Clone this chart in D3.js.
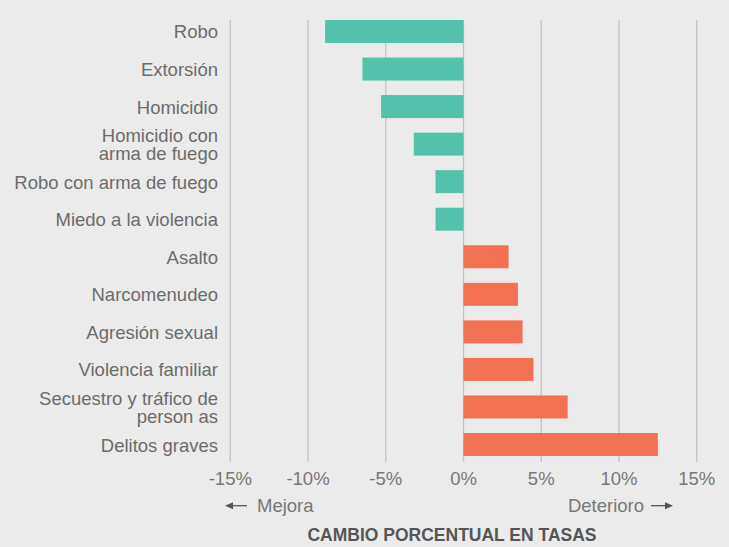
<!DOCTYPE html>
<html>
<head>
<meta charset="utf-8">
<script src="https://cdn.jsdelivr.net/npm/d3@7"></script>
<style>
  html, body { margin: 0; padding: 0; background: #ebebeb; }
  svg { display: block; font-family: "Liberation Sans", Arial, Helvetica, sans-serif; }
</style>
</head>
<body>
<svg width="729" height="547"></svg>
<script>
// categories (top to bottom), each may have two lines
let categories = [
  ["Robo"],
  ["Extorsión"],
  ["Homicidio"],
  ["Homicidio con", "arma de fuego"],
  ["Robo con arma de fuego"],
  ["Miedo a la violencia"],
  ["Asalto"],
  ["Narcomenudeo"],
  ["Agresión sexual"],
  ["Violencia familiar"],
  ["Secuestro y tráfico de", "person as"],
  ["Delitos graves"]
];
let changes = [-8.9, -6.5, -5.3, -3.2, -1.8, -1.8, 2.9, 3.5, 3.8, 4.5, 6.7, 12.5];
let ticks = [-15, -10, -5, 0, 5, 10, 15];
let axisTitle = "CAMBIO PORCENTUAL EN TASAS";
let leftNote = "Mejora";
let rightNote = "Deterioro";

var DrawChart = function(){
  let svg = d3.select("svg");
  let ids = categories.map((c, i) => i);
  let fs = "18.5px";

  let x = d3.scaleLinear().domain([-15, 15]).range([230.3, 696.7]);
  let y = d3.scaleBand()
    .domain(ids)
    .range([12.7, 463.3])
    .paddingInner(0.3875)
    .paddingOuter(0.19375);

  // gridlines
  svg.append("g").selectAll("line")
    .data(ticks)
    .enter()
    .append("line")
    .attr("x1", d => x(d))
    .attr("x2", d => x(d))
    .attr("y1", 20)
    .attr("y2", 462)
    .attr("stroke", "#c2c2c2")
    .attr("stroke-width", 1.3);

  // bars
  svg.append("g").selectAll("rect")
    .data(changes)
    .enter()
    .append("rect")
    .attr("x", d => x(Math.min(0, d)))
    .attr("y", (d, i) => y(i))
    .attr("width", d => Math.abs(x(d) - x(0)))
    .attr("height", y.bandwidth())
    .attr("fill", d => d < 0 ? "#53c2aa" : "#f27153");

  // category labels
  let lineH = 17.5;
  let labels = svg.append("g").selectAll("text")
    .data(categories)
    .enter()
    .append("text")
    .attr("text-anchor", "end")
    .style("font-size", fs)
    .style("fill", "#6b6b6b")
    .attr("y", (d, i) => y(i) + y.bandwidth() / 2 + 7 - (d.length - 1) * lineH / 2);
  labels.selectAll("tspan")
    .data(d => d)
    .enter()
    .append("tspan")
    .attr("x", 218)
    .attr("dy", (d, j) => j === 0 ? 0 : lineH)
    .text(d => d);

  // tick labels
  svg.append("g").selectAll("text")
    .data(ticks)
    .enter()
    .append("text")
    .attr("x", d => x(d))
    .attr("y", 485)
    .attr("text-anchor", "middle")
    .style("font-size", fs)
    .style("fill", "#777")
    .text(d => d + "%");

  // direction notes with arrows
  let arrowY = 505.7;
  svg.append("line")
    .attr("x1", 231).attr("x2", 247)
    .attr("y1", arrowY).attr("y2", arrowY)
    .attr("stroke", "#555").attr("stroke-width", 1.3);
  svg.append("path")
    .attr("d", "M225," + arrowY + " L233," + (arrowY - 3.5) + " L233," + (arrowY + 3.5) + " Z")
    .attr("fill", "#555");
  svg.append("text")
    .attr("x", 257).attr("y", 512)
    .style("font-size", fs)
    .style("fill", "#777")
    .text(leftNote);

  svg.append("line")
    .attr("x1", 651).attr("x2", 667)
    .attr("y1", arrowY).attr("y2", arrowY)
    .attr("stroke", "#555").attr("stroke-width", 1.3);
  svg.append("path")
    .attr("d", "M673," + arrowY + " L665," + (arrowY - 3.5) + " L665," + (arrowY + 3.5) + " Z")
    .attr("fill", "#555");
  svg.append("text")
    .attr("x", 644).attr("y", 512)
    .attr("text-anchor", "end")
    .style("font-size", fs)
    .style("fill", "#777")
    .text(rightNote);

  // axis title
  svg.append("text")
    .attr("x", 452).attr("y", 541)
    .attr("text-anchor", "middle")
    .style("font-size", "17.5px")
    .style("font-weight", "bold")
    .style("fill", "#555")
    .text(axisTitle);
}
DrawChart();
</script>
</body>
</html>
